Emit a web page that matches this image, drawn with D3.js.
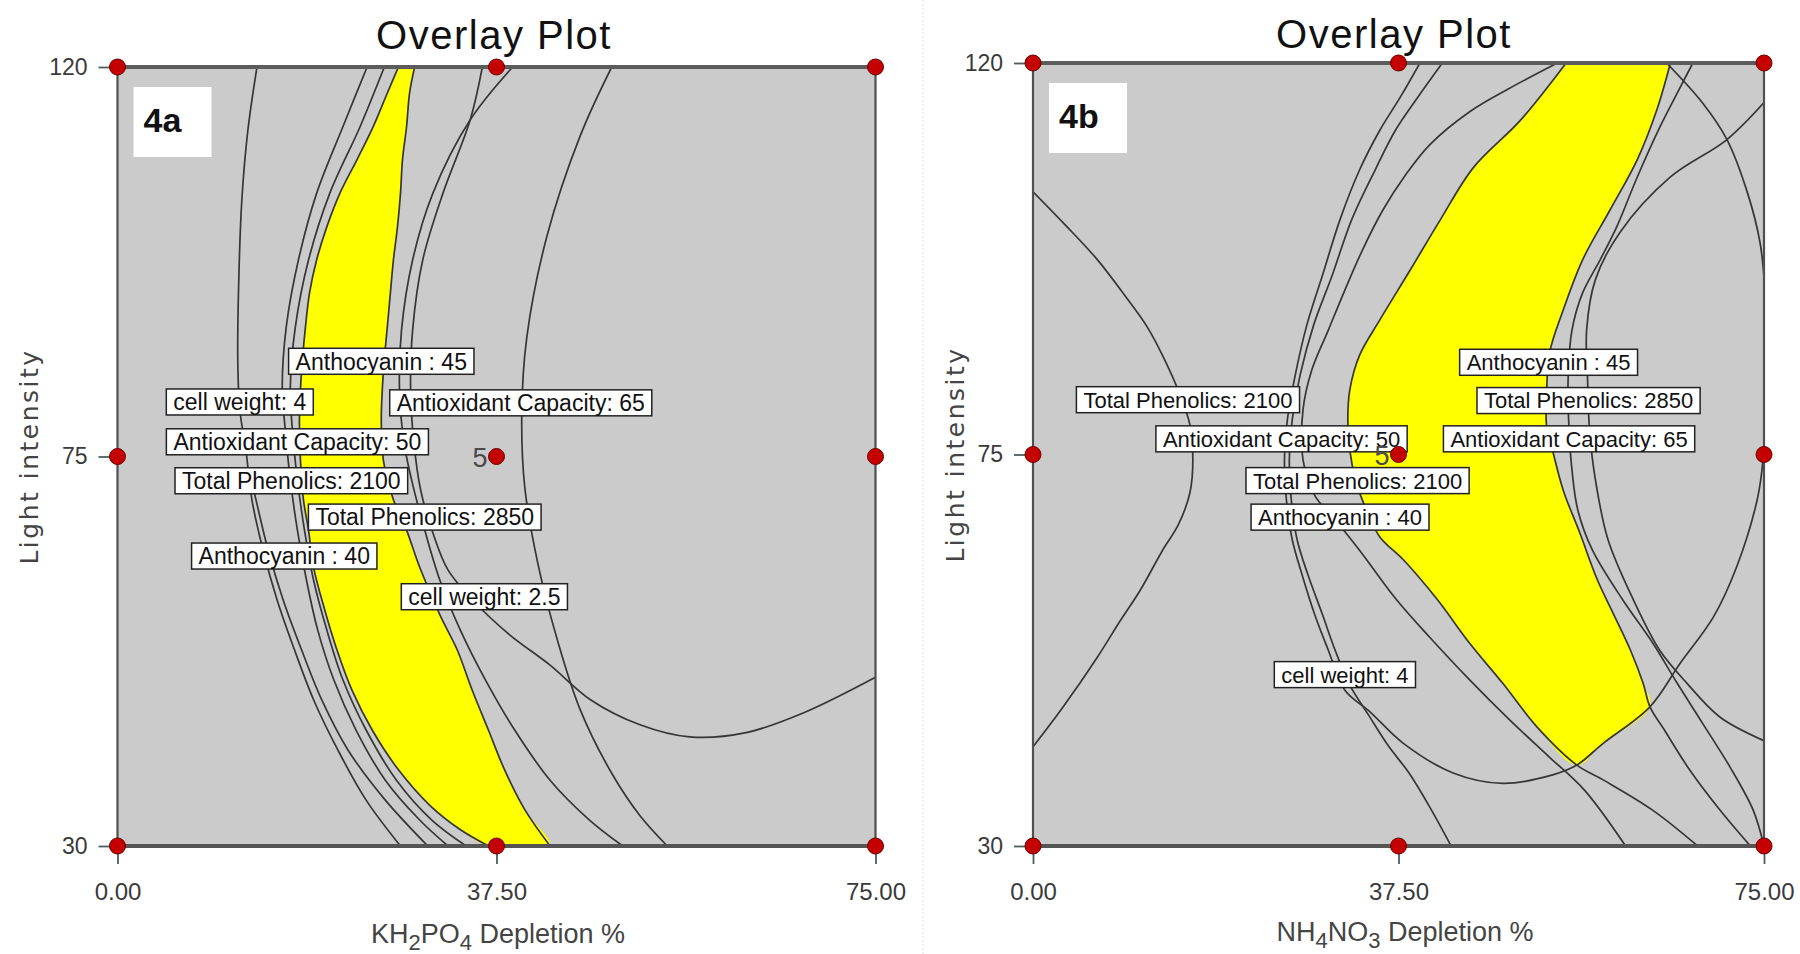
<!DOCTYPE html>
<html><head><meta charset="utf-8">
<script src="https://cdn.jsdelivr.net/npm/d3@7"></script>
<style>
body{margin:0;background:#fff;}
svg{display:block;}
</style></head><body>
<svg id="c" width="1800" height="954"></svg>
<script>
// ---------------- DATA ----------------
const xTicks = [0, 37.5, 75];
const yTicks = [30, 75, 120];
const designX = [0, 37.5, 75];
const designY = [30, 75, 120];
const centerRunCount = "5";

// Panel 4a contours: [KH2PO4 depletion %, light intensity]
const aCellWeight4 = [[13.8,120],[12.9,112.7],[12.3,104.6],[12.0,95.4],[11.9,86.2],[12.1,80.4],[12.7,75.8],[13.3,70.0],[14.4,64.2],[15.8,58.4],[17.5,52.7],[19.4,46.9],[21.8,41.1],[24.6,35.3],[28.0,30]];
const aAntho40 = [[13.0,73.4],[13.7,70.0],[14.9,64.2],[16.4,58.4],[18.2,52.7],[20.2,46.9],[22.8,41.1],[26.5,35.3],[30.7,30]];
const aPhen2100 = [[24.7,120],[22.3,113.1],[19.7,105.4],[17.9,97.7],[16.7,90.0],[16.3,83.0],[16.6,78.1],[17.1,72.3],[17.8,66.5],[18.7,60.7],[19.8,55.0],[21.4,49.2],[23.6,43.4],[26.5,37.6],[29.9,33.0],[32.7,30]];
const aAntiox50 = [[26.4,120],[24.0,113.1],[21.0,105.4],[18.9,97.7],[17.6,90.0],[17.1,83.0],[17.3,78.1],[17.8,72.3],[18.5,66.5],[19.4,60.7],[20.7,55.0],[22.3,49.2],[24.6,43.4],[27.6,37.6],[31.1,33.0],[34.5,30]];
const aEdgeLeft = [[27.8,120],[26.7,117.0],[25.3,113.1],[23.7,109.3],[22.0,105.4],[20.7,101.5],[19.7,97.7],[19.0,93.9],[18.6,90.0],[18.3,86.2],[18.1,82.7],[18.0,79.2],[18.1,74.6],[18.4,70.0],[18.9,66.5],[19.4,62.2],[20.5,57.3],[21.7,52.7],[23.2,48.0],[25.2,43.4],[27.8,38.8],[30.9,34.7],[33.9,31.9],[36.7,30]];
const aEdgeRight = [[29.4,120],[28.9,117.0],[28.6,113.1],[28.2,109.3],[28.0,105.4],[27.7,101.5],[27.3,97.7],[27.0,93.9],[26.7,90.0],[26.4,86.2],[26.2,82.7],[26.1,79.2],[26.3,74.6],[27.3,70.0],[28.6,66.5],[29.9,62.2],[31.9,56.7],[33.6,52.7],[35.1,48.0],[36.7,43.4],[38.3,38.8],[40.3,34.2],[42.8,30]];
const aPhen2850 = [[39.1,120],[34.9,113.9],[31.2,105.4],[29.2,97.7],[28.1,89.6],[27.9,82.7],[28.3,76.9],[29.1,72.3],[30.4,66.5],[31.9,60.7],[33.9,55.0],[36.4,49.2],[39.3,43.4],[42.8,37.6],[46.7,33.0],[50.0,30]];
const aCellWeight25 = [[36.1,120],[34.9,113.9],[32.2,105.4],[30.2,97.7],[29.2,89.6],[29.0,82.7],[29.3,76.9],[30.0,71.1],[31.2,66.2],[32.7,61.9],[35.4,58.1],[38.8,54.4],[42.8,50.9],[46.8,46.9],[51.7,44.0],[56.6,42.6],[62.2,43.1],[67.9,45.4],[75.0,49.5]];
const aAntiox65 = [[48.9,120],[45.8,112.1],[42.5,100.5],[40.5,88.8],[40.0,80.0],[40.3,71.4],[41.6,62.6],[43.5,53.9],[45.8,45.7],[49.0,38.2],[51.7,33.5],[54.4,30]];
const aLabels = [
  {text:"Anthocyanin : 45", x:26.1, y:86.0},
  {text:"cell weight: 4", x:12.1, y:81.3},
  {text:"Antioxidant Capacity: 65", x:39.9, y:81.2},
  {text:"Antioxidant Capacity: 50", x:17.8, y:76.7},
  {text:"Total Phenolics: 2100", x:17.2, y:72.2},
  {text:"Total Phenolics: 2850", x:30.4, y:68.0},
  {text:"Anthocyanin : 40", x:16.5, y:63.5},
  {text:"cell weight: 2.5", x:36.3, y:58.8}
];

// Panel 4b contours: [NH4NO3 depletion %, light intensity]
const bPhen2100a = [[0,105.2],[3.3,101.4],[6.6,97.4],[9.4,93.3],[11.7,89.7],[13.5,85.9],[15.1,81.8],[16.1,78.4],[16.4,74.4],[16.1,70.6],[14.9,66.9],[13.3,64.0],[11.0,59.4],[8.9,55.8],[6.6,51.7],[3.1,46.0],[0,41.4]];
const bCellWeight4 = [[39.7,120],[37.7,116.1],[35.6,112.3],[33.5,107.7],[31.5,102.0],[29.7,95.6],[28.1,89.9],[26.9,84.1],[26.1,79.0],[25.8,74.4],[26.0,69.8],[26.6,65.2],[27.6,61.2],[28.9,56.6],[30.3,52.5],[32.0,47.9],[34.6,45.4],[38.0,41.8],[43.1,38.4],[48.2,37.2],[53.4,38.2],[55.8,39.3],[58.5,41.8],[63.3,46.0],[66.4,51.0],[69.8,56.3],[72.2,62.1],[74.3,69.8],[74.9,74.4],[75.2,83.6],[75.1,93.6],[74.6,99.3],[73.3,105.1],[71.2,111.2],[68.7,115.4],[65.0,120]];
const bAntiox50 = [[42.0,120],[39.5,116.1],[37.2,112.3],[35.1,107.7],[32.7,102.0],[30.7,95.6],[28.8,89.9],[27.4,84.1],[26.6,79.0],[26.3,74.4],[26.5,69.8],[27.1,65.2],[28.2,61.2],[29.7,56.6],[31.0,52.5],[32.5,48.5],[34.4,45.1],[36.4,41.6],[38.7,38.2],[40.9,34.1],[42.9,30]];
const bAntho40 = [[53.8,120],[48.9,117.1],[44.8,114.4],[40.7,110.6],[38.2,107.1],[35.9,103.1],[33.8,98.5],[32.0,93.9],[30.3,89.3],[28.6,84.7],[27.7,80.1],[27.7,74.4],[28.9,70.3],[31.0,67.5],[33.5,64.0],[37.3,58.3],[40.7,54.0],[44.8,49.1],[48.9,44.5],[53.0,40.2],[56.6,36.4],[60.8,30]];
const bEdgeLeft = [[54.7,120],[50.0,113.4],[45.2,108.0],[41.8,102.0],[38.7,96.2],[35.6,90.5],[33.5,86.4],[32.5,82.4],[32.3,79.0],[32.5,75.5],[33.1,72.1],[34.2,68.6],[35.6,65.5],[38.0,62.9],[41.5,58.3],[44.8,53.3],[48.2,48.7],[51.7,43.7],[55.8,39.3]];
const bEdgeLeftTail = [[58.5,37.6],[63.6,34.1],[68.2,30]];
const bEdgeBottom = [[58.5,41.8]];
const bEdgeRight = [[65.4,120],[64.0,114.6],[62.0,108.9],[59.2,103.1],[56.4,97.4],[54.4,91.6],[53.0,86.7],[52.7,82.1],[52.7,78.2],[53.3,75.5],[54.4,70.9],[56.1,66.0],[57.9,60.6],[59.5,56.8],[61.3,52.5],[62.6,48.7],[63.3,46.0]];
const bEdgeRightTail = [[64.8,43.3],[67.4,38.7],[70.5,34.1],[73.6,30]];
const bAntiox65 = [[67.7,120],[66.4,117.2],[64.3,112.6],[62.0,106.9],[59.9,101.2],[58.2,97.4],[56.4,93.6],[55.3,89.3],[54.9,83.6],[55.0,77.8],[55.3,73.2],[55.9,68.6],[57.4,64.0],[60.5,58.3],[63.6,53.3],[66.1,48.7],[68.7,44.1],[71.5,39.1],[73.9,34.1],[75.0,30]];
const bPhen2850 = [[75.2,115.7],[71.2,111.2],[65.4,106.9],[60.2,100.5],[57.7,95.1],[56.8,89.3],[56.9,83.6],[57.1,77.8],[57.7,72.1],[59.0,65.2],[61.6,58.3],[64.3,52.5],[67.1,48.7],[70.5,44.8],[75.2,42.0]];
const bLabels = [
  {text:"Total Phenolics: 2100", x:15.9, y:81.3},
  {text:"Antioxidant Capacity: 50", x:25.5, y:76.8},
  {text:"Total Phenolics: 2100", x:33.3, y:72.0},
  {text:"Anthocyanin : 40", x:31.5, y:67.8},
  {text:"cell weight: 4", x:32.0, y:49.7},
  {text:"Anthocyanin : 45", x:52.9, y:85.6},
  {text:"Total Phenolics: 2850", x:57.0, y:81.2},
  {text:"Antioxidant Capacity: 65", x:55.0, y:76.8}
];

// ---------------- DRAWING ----------------
const svg = d3.select("#c");
const defs = svg.append("defs");
const FONT = "'Liberation Sans', Arial, sans-serif";

// faint separator between the two figures
svg.append("line").attr("x1",923).attr("x2",923).attr("y1",0).attr("y2",954)
  .attr("stroke","#dedede").attr("stroke-width",1).attr("stroke-dasharray","2,2");

function drawPanel(cfg){
  const x = d3.scaleLinear().domain([0,75]).range([cfg.left, cfg.right]);
  const y = d3.scaleLinear().domain([30,120]).range([cfg.bottom, cfg.top]);
  const W = cfg.right-cfg.left, H = cfg.bottom-cfg.top;
  const g = svg.append("g");

  defs.append("clipPath").attr("id","clip"+cfg.id).append("rect")
    .attr("x",cfg.left).attr("y",cfg.top).attr("width",W).attr("height",H);

  // title
  g.append("text").attr("x",cfg.titleX).attr("y",cfg.titleY).attr("text-anchor","middle")
    .style("font-family",FONT).style("font-size","40px").style("letter-spacing","1.5px")
    .attr("fill","#111").text("Overlay Plot");

  g.append("rect").attr("x",cfg.left).attr("y",cfg.top).attr("width",W).attr("height",H).attr("fill","#cbcbcb");

  const line = d3.line().x(d=>x(d[0])).y(d=>y(d[1])).curve(d3.curveCatmullRom.alpha(0.5));
  const plot = g.append("g").attr("clip-path","url(#clip"+cfg.id+")");
  plot.append("path").attr("d", line(cfg.yellow)+"Z").attr("fill","#ffff00").attr("stroke","none");
  plot.selectAll("path.ct").data(cfg.curves).join("path").attr("class","ct")
    .attr("d",line).attr("fill","none").attr("stroke","#363636").attr("stroke-width",1.7);

  // frame
  g.append("rect").attr("x",cfg.left).attr("y",cfg.top).attr("width",W).attr("height",H)
    .attr("fill","none").attr("stroke","#505050").attr("stroke-width",2.2);
  g.append("line").attr("x1",cfg.left).attr("x2",cfg.right).attr("y1",cfg.top).attr("y2",cfg.top)
    .attr("stroke","#5c5c5c").attr("stroke-width",4);
  g.append("line").attr("x1",cfg.left).attr("x2",cfg.right).attr("y1",cfg.bottom).attr("y2",cfg.bottom)
    .attr("stroke","#555").attr("stroke-width",4);

  // axes
  const ya = g.append("g").attr("transform",`translate(${cfg.left},0)`)
    .call(d3.axisLeft(y).tickValues(yTicks).tickFormat(d3.format("d")).tickSize(19).tickPadding(11));
  const xa = g.append("g").attr("transform",`translate(0,${cfg.bottom})`)
    .call(d3.axisBottom(x).tickValues(xTicks).tickFormat(d3.format(".2f")).tickSize(18).tickPadding(19));
  [ya,xa].forEach(a=>{
    a.select(".domain").remove();
    a.selectAll(".tick line").attr("stroke","#4a5e60").attr("stroke-width",1.8);
    a.selectAll(".tick text").style("font-family",FONT).attr("fill","#3a3a3a");
  });
  ya.selectAll(".tick text").style("font-size","23px");
  xa.selectAll(".tick text").style("font-size","24px");

  // axis titles
  const xt = g.append("text").attr("x",cfg.xTitleX).attr("y",cfg.xTitleY).attr("text-anchor","middle")
    .style("font-family",FONT).style("font-size","27px").attr("fill","#444");
  cfg.xTitle.forEach(p=>{
    const t = xt.append("tspan").text(p.t);
    if(p.sub) t.style("font-size","22px").attr("dy",7);
    else if(p.after) t.attr("dy",-7);
  });
  g.append("text").attr("transform",`translate(${cfg.yTitleX},${(cfg.top+cfg.bottom)/2}) rotate(-90)`)
    .attr("text-anchor","middle").style("font-family","'DejaVu Sans', Verdana, sans-serif")
    .style("font-size","25px").style("letter-spacing","2.5px").attr("fill","#444").text("Light intensity");

  // contour labels
  cfg.labels.forEach(l=>{
    const lg = g.append("g");
    const r = lg.append("rect");
    const t = lg.append("text").attr("x",x(l.x)).attr("y",y(l.y)+cfg.labelFs*0.36)
      .attr("text-anchor","middle").style("font-family",FONT).style("font-size",cfg.labelFs+"px")
      .attr("fill","#111").text(l.text);
    const w = t.node().getComputedTextLength();
    r.attr("x",x(l.x)-w/2-7).attr("y",y(l.y)-13).attr("width",w+14).attr("height",26)
      .attr("fill","#fff").attr("stroke","#222").attr("stroke-width",1.5);
  });

  // design points
  const pts = [];
  designX.forEach(dx=>designY.forEach(dy=>pts.push([dx,dy])));
  g.selectAll("circle.dp").data(pts).join("circle").attr("class","dp")
    .attr("cx",d=>x(d[0])).attr("cy",d=>y(d[1])).attr("r",8)
    .attr("fill","#c40000").attr("stroke","#700000").attr("stroke-width",1);
  g.append("text").attr("x",x(37.5)-9).attr("y",y(75)+10).attr("text-anchor","end")
    .style("font-family",FONT).style("font-size","27px").attr("fill","#4a4a4a").text(centerRunCount);

  // panel tag
  g.append("rect").attr("x",cfg.left+16).attr("y",cfg.top+20).attr("width",78).attr("height",70).attr("fill","#fff");
  g.append("text").attr("x",cfg.left+26).attr("y",cfg.top+65)
    .style("font-family",FONT).style("font-size","34px").style("font-weight","bold")
    .attr("fill","#111").text(cfg.tag);
}

drawPanel({
  id:"a", tag:"4a", left:117.5, right:875.5, top:67, bottom:846,
  titleX:494, titleY:49, xTitleX:498, xTitleY:943, yTitleX:38, labelFs:23,
  xTitle:[{t:"KH"},{t:"2",sub:true},{t:"PO",after:true},{t:"4",sub:true},{t:" Depletion %",after:true}],
  yellow: aEdgeLeft.concat(aEdgeRight.slice().reverse()),
  curves:[aCellWeight4,aAntho40,aPhen2100,aAntiox50,aEdgeLeft,aEdgeRight,aPhen2850,aCellWeight25,aAntiox65],
  labels:aLabels
});
drawPanel({
  id:"b", tag:"4b", left:1033, right:1764, top:63, bottom:846,
  titleX:1394, titleY:48, xTitleX:1405, xTitleY:941, yTitleX:964, labelFs:22,
  xTitle:[{t:"NH"},{t:"4",sub:true},{t:"NO",after:true},{t:"3",sub:true},{t:" Depletion %",after:true}],
  yellow: bEdgeLeft.concat(bEdgeBottom, bEdgeRight.slice().reverse()),
  curves:[bPhen2100a,bCellWeight4,bAntiox50,bAntho40,bEdgeLeft.concat(bEdgeLeftTail),bEdgeRight.concat(bEdgeRightTail),bAntiox65,bPhen2850],
  labels:bLabels
});
</script>
</body></html>
